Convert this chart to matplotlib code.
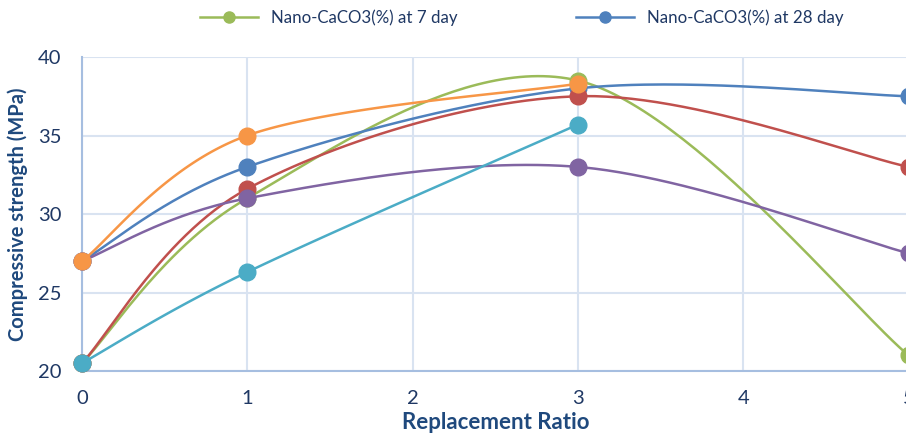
import numpy as np
import matplotlib.pyplot as plt

plt.rcParams['font.family'] = ['Lato', 'DejaVu Sans']

ratio = [0, 1, 3, 5]
green_7day = [20.5, 31.0, 38.5, 21.0]
blue_28day = [27.0, 33.0, 38.0, 37.5]
red_vals = [20.5, 31.6, 37.5, 33.0]
purple_vals = [27.0, 31.0, 33.0, 27.5]
ratio_short = [0, 1, 3]
cyan_vals = [20.5, 26.3, 35.7]
orange_vals = [27.0, 35.0, 38.3]

XS, YS = 165.0, 15.7  # rough pixel scale per data unit, used for smoothing shape


def excel_smooth(x, y, n=60):
    # bezier smoothing like excel's "smoothed line"
    p = np.column_stack([np.asarray(x, float) * XS, np.asarray(y, float) * YS])
    out = [p[0]]
    for i in range(len(p) - 1):
        p0 = p[i - 1] if i > 0 else p[i]
        p1, p2 = p[i], p[i + 1]
        p3 = p[i + 2] if i + 2 < len(p) else p[i + 1]
        c1 = p1 + (p2 - p0) / 6.0
        c2 = p2 - (p3 - p1) / 6.0
        t = np.linspace(0, 1, n)[1:, None]
        seg = ((1 - t) ** 3) * p1 + 3 * ((1 - t) ** 2) * t * c1 + 3 * (1 - t) * t ** 2 * c2 + t ** 3 * p2
        out.extend(seg)
    out = np.array(out)
    return out[:, 0] / XS, out[:, 1] / YS


fig = plt.figure(figsize=(9.06, 4.36), dpi=100)
ax = fig.add_axes([82 / 906, 1 - 371 / 436, 826.5 / 906, 314 / 436])

# same order as the excel series (later ones sit on top)
series = [
    (green_7day, ratio, '#9BBB59', 'Nano-CaCO3(%) at 7 day'),
    (blue_28day, ratio, '#4F81BD', 'Nano-CaCO3(%) at 28 day'),
    (red_vals, ratio, '#C0504D', None),
    (purple_vals, ratio, '#8064A2', None),
    (cyan_vals, ratio_short, '#4BACC6', None),
    (orange_vals, ratio_short, '#F79646', None),
]

handles = []
z = 3
for vals, xs, col, lab in series:
    sx, sy = excel_smooth(xs, vals)
    ax.plot(sx, sy, '-', color=col, lw=1.8, clip_on=False, zorder=z)
    ax.plot(xs, vals, 'o', color=col, ms=12, clip_on=False, zorder=z + 0.5)
    z += 1
    if lab:
        h, = ax.plot([], [], '-o', color=col, lw=1.8, ms=8, label=lab)
        handles.append(h)

ax.set_xlim(0, 5)
ax.set_ylim(20, 40)
ax.set_xticks(range(6))
ax.set_yticks(range(20, 41, 5))
ax.grid(True, color='#D9E3F1', lw=1.5)
ax.set_axisbelow(True)
for s in ['top', 'right']:
    ax.spines[s].set_visible(False)
for s in ['left', 'bottom']:
    ax.spines[s].set_color('#A6BEE0')
    ax.spines[s].set_linewidth(1.5)
ax.tick_params(length=0, labelsize=14.5, colors='#1F3864')
ax.tick_params(axis='y', pad=15)
ax.tick_params(axis='x', pad=14)

ax.set_xlabel('Replacement Ratio', fontsize=16, fontweight='bold', color='#1F497D', labelpad=3)
ax.set_ylabel('Compressive strength (MPa)', fontsize=14.5, fontweight='bold', color='#1F497D', labelpad=7)

fig.legend(handles=handles, loc='center', bbox_to_anchor=(522 / 906, 1 - 18 / 436), ncol=2,
           frameon=False, fontsize=12.2, labelcolor='#1F3864', columnspacing=7, handlelength=3.4)

fig.savefig('out.png', dpi=100)
